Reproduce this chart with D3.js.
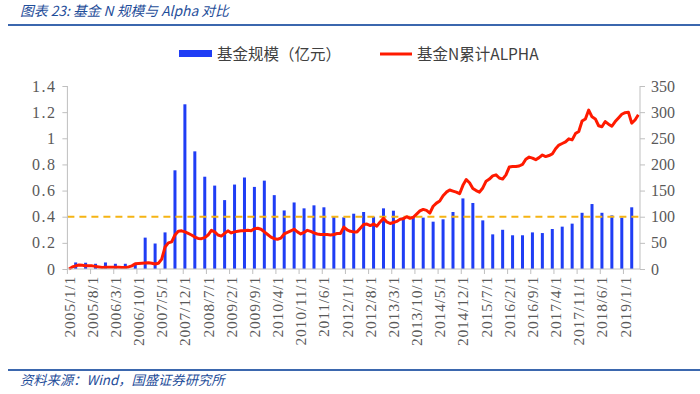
<!DOCTYPE html>
<html><head><meta charset="utf-8">
<script src="https://cdn.jsdelivr.net/npm/d3@7"></script>
<style>
html,body{margin:0;padding:0;background:#fff;}
svg{display:block;}
</style>
</head><body>
<svg id="chart" width="700" height="394"></svg>
<script>
// ---- data ----
const startYear = 2005, monthCount = 173; // 2005/1 .. 2019/5, monthly categories
const months = [];
for (let k = 0; k < monthCount; k++) {
  const y = startYear + Math.floor(k / 12), m = (k % 12) + 1;
  months.push(y + "/" + m + "/1");
}
// cumulative alpha of fund N (right axis), monthly
const alphaValues = [
  0,4,6,7.5,7,6,6,6,5,4,3,3.5,3.5,3.5,3.5,3.5,3,3,4,6,
  10,10.5,11,11.5,12,11,9.5,11,19,42,50,52,65,72,73,71,68,65,61,58.5,
  58,60,65,74,71,65,63,68,73,69,71,72,73,73,74,73,77,78,76,71,
  66,61,58,57,59,67,70,73,76,71,67,70,74,72,69,67,66,66,66,65,
  66,68,68,80,75,72,71,71,78,85,86,83,86,82,90,97,90,87,89,91,
  95,96,100,97,99,105,111,114,112,107,120,126,130,140,147,151,149,147,144,160,
  171,165,154,150,147,155,168,172,178,180,174,172,180,195,196,196,197,200,210,214,
  212,209,213,218,215,217,220,230,237,240,243,249,247,259,263,283,287,304,291,287,
  274,272,282,277,273,282,289,296,299,300,279,285,295
];
// fund size (100 million yuan, left axis), quarter-end months
const sizeMonths = [];
for (let k = 2; k < monthCount; k += 3) sizeMonths.push(months[k]);
const sizeValues = [
  0.05,0.048,0.04,0.05,0.04,0.04,0.04,0.24,0.195,0.28,
  0.755,1.26,0.90,0.706,0.638,0.527,0.646,0.70,0.628,0.676,
  0.565,0.448,0.509,0.464,0.487,0.472,0.40,0.395,0.423,0.436,
  0.40,0.464,0.446,0.395,0.40,0.393,0.362,0.38,0.436,0.54,
  0.505,0.372,0.265,0.30,0.258,0.258,0.28,0.275,0.306,0.324,
  0.347,0.43,0.497,0.43,0.41,0.393,0.472
];
const xTickLabels = ["2005/1/1","2005/8/1","2006/3/1","2006/10/1","2007/5/1","2007/12/1","2008/7/1","2009/2/1","2009/9/1","2010/4/1","2010/11/1","2011/6/1","2012/1/1","2012/8/1","2013/3/1","2013/10/1","2014/5/1","2014/12/1","2015/7/1","2016/2/1","2016/9/1","2017/4/1","2017/11/1","2018/6/1","2019/1/1"];
const leftTicks = [0,0.2,0.4,0.6,0.8,1,1.2,1.4];
const rightTicks = [0,50,100,150,200,250,300,350];
const refValue = 0.4;
const titleText = "图表 23:  基金 N 规模与 Alpha 对比";
const sourceText = "资料来源：Wind，国盛证券研究所";
const legendBar = "基金规模（亿元）";
const legendLine = "基金N累计ALPHA";

// ---- layout ----
const svg = d3.select("#chart");
const L = 67.4, R = 640, T = 86, B = 269;
const x = d3.scaleBand().domain(months).range([L, R]).padding(0);
const yL = d3.scaleLinear().domain([0, 1.4]).range([B, T]);
const yR = d3.scaleLinear().domain([0, 350]).range([B, T]);
const cx = m => x(m) + x.bandwidth() / 2;

const blue = "#1F3DF5", red = "#FF1A00", gold = "#F5B414", axisC = "#BFBFBF", txtC = "#595959";
const titleC = "#1F4E9A";
const serif = "'Liberation Serif','DejaVu Serif',serif";
const cjk = "'Noto Sans CJK SC','Noto Sans',sans-serif";

// title + rules
svg.append("text").attr("x", 20).attr("y", 16).attr("fill", titleC)
  .attr("font-family", cjk).attr("font-size", 13.8).attr("font-style", "italic").text(titleText);
svg.append("line").attr("x1", 8).attr("x2", 700).attr("y1", 25).attr("y2", 25)
  .attr("stroke", "#3B67AE").attr("stroke-width", 2);
svg.append("line").attr("x1", 8).attr("x2", 700).attr("y1", 370).attr("y2", 370)
  .attr("stroke", "#3B67AE").attr("stroke-width", 2);
svg.append("text").attr("x", 20).attr("y", 385).attr("fill", titleC)
  .attr("font-family", cjk).attr("font-size", 13.3).attr("font-style", "italic").text(sourceText);

// legend
svg.append("rect").attr("x", 179).attr("y", 50).attr("width", 33).attr("height", 7).attr("fill", blue);
svg.append("text").attr("x", 217).attr("y", 59.5).attr("fill", "#404040")
  .attr("font-family", cjk).attr("font-size", 15.5).text(legendBar);
svg.append("line").attr("x1", 380).attr("x2", 412).attr("y1", 54).attr("y2", 54)
  .attr("stroke", red).attr("stroke-width", 3);
svg.append("text").attr("x", 417).attr("y", 59.5).attr("fill", "#404040")
  .attr("font-family", cjk).attr("font-size", 15.5).text(legendLine);

// bars
svg.append("g").selectAll("rect").data(sizeValues).join("rect")
  .attr("x", (d, i) => cx(sizeMonths[i]) - 1.5)
  .attr("width", 3)
  .attr("y", d => yL(d))
  .attr("height", d => yL(0) - yL(d))
  .attr("fill", blue);

// reference dashed line
svg.append("line").attr("x1", L).attr("x2", R).attr("y1", yL(refValue)).attr("y2", yL(refValue))
  .attr("stroke", gold).attr("stroke-width", 2).attr("stroke-dasharray", "7,5");

// alpha line
const line = d3.line().x((d, i) => cx(months[i])).y(d => yR(d)).curve(d3.curveLinear);
svg.append("path").datum(alphaValues).attr("d", line)
  .attr("fill", "none").attr("stroke", red).attr("stroke-width", 3).attr("stroke-linejoin", "round");

// axes
const gL = svg.append("g").attr("transform", `translate(${L},0)`)
  .call(d3.axisLeft(yL).tickValues(leftTicks).tickSize(5).tickPadding(6).tickFormat(d => d === 0 || d === 1 ? String(d) : d3.format(".1f")(d)));
const gR = svg.append("g").attr("transform", `translate(${R},0)`)
  .call(d3.axisRight(yR).tickValues(rightTicks).tickSize(5).tickPadding(6));
[gL, gR].forEach(g => {
  g.select(".domain").attr("stroke", axisC).attr("d", `M0,${T}V${B}`);
  g.selectAll(".tick line").attr("stroke", axisC);
  g.selectAll(".tick text").attr("fill", txtC).attr("font-family", serif).attr("font-size", 16);
});
gL.selectAll(".tick text").attr("letter-spacing", 1.5);

// x axis
const gX = svg.append("g");
gX.append("line").attr("x1", L).attr("x2", R).attr("y1", B).attr("y2", B).attr("stroke", axisC);
const tickIdx = xTickLabels.map(lbl => months.indexOf(lbl));
gX.selectAll(".xt").data(tickIdx).join("line").attr("class", "xt")
  .attr("x1", i => x(months[i])).attr("x2", i => x(months[i]))
  .attr("y1", B).attr("y2", B + 5).attr("stroke", axisC);
gX.selectAll(".xl").data(xTickLabels).join("text").attr("class", "xl")
  .attr("transform", d => `translate(${cx(d) + 5.5},${B + 7}) rotate(-90)`)
  .attr("text-anchor", "end").attr("fill", txtC).attr("letter-spacing", 0.8)
  .attr("font-family", serif).attr("font-size", 15.5).text(d => d);
</script>
</body></html>
